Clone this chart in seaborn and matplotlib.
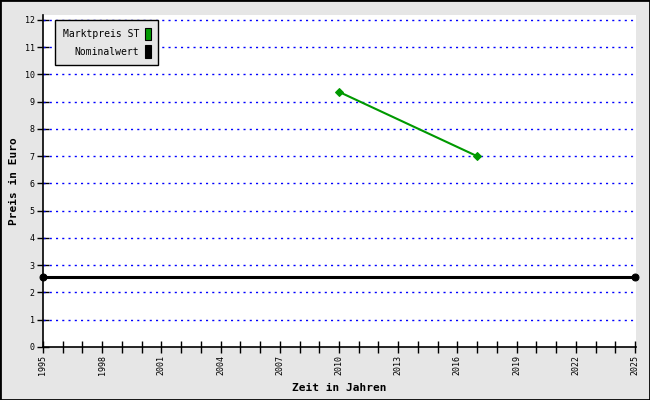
import matplotlib
matplotlib.use("Agg")
import matplotlib.pyplot as plt
import seaborn as sns
import pandas as pd
from matplotlib.patches import Rectangle

sns.set_theme(style="white")
plt.rcParams['font.family'] = ['DejaVu Sans Mono']
plt.rcParams['text.color'] = 'black'
plt.rcParams['axes.labelcolor'] = 'black'
plt.rcParams['xtick.color'] = 'black'
plt.rcParams['ytick.color'] = 'black'

# Data
markt_years = [2010, 2017]
markt_values = [9.36, 7.0]
nominal_years = [1995, 2025]
nominal_values = [2.56, 2.56]
series_names = ["Marktpreis ST", "Nominalwert"]
y_ticks = list(range(0, 13))
x_label_years = list(range(1995, 2026, 3))

df_markt = pd.DataFrame({"Jahr": markt_years, "Preis": markt_values})
df_nom = pd.DataFrame({"Jahr": nominal_years, "Preis": nominal_values})

fig = plt.figure(figsize=(6.5, 4), dpi=100, facecolor="#e6e6e6")
ax = fig.add_axes([43/650, 53/400, 593/650, 332/400])
ax.set_facecolor("white")

# grid
for y in y_ticks[1:]:
    ax.axhline(y, color="#0000ff", linestyle=(0, (1.5, 3)), linewidth=1.0, zorder=1)

sns.lineplot(data=df_nom, x="Jahr", y="Preis", ax=ax, color="black", linewidth=2.2,
             marker="o", markersize=5, markeredgecolor="black", zorder=3, clip_on=False)
sns.lineplot(data=df_markt, x="Jahr", y="Preis", ax=ax, color="#009900", linewidth=1.5,
             marker="D", markersize=4, markeredgecolor="#009900", zorder=3)

ax.set_xlim(1995, 2025.05)
ax.set_ylim(0, 12.18)
ax.set_yticks(y_ticks)
ax.set_yticklabels([str(v) for v in y_ticks], fontsize=6)
ax.set_xticks(x_label_years)
ax.set_xticklabels([str(v) for v in x_label_years], fontsize=6, rotation=90)
ax.set_xticks(list(range(1995, 2026)), minor=True)
ax.tick_params(axis="x", which="both", direction="inout", length=8, width=1, color="black", pad=2, bottom=True)
ax.tick_params(axis="y", which="both", direction="inout", length=8, width=1, color="black", pad=2, left=True)

for side in ["top", "right"]:
    ax.spines[side].set_visible(False)
for side in ["left", "bottom"]:
    ax.spines[side].set_color("black")
    ax.spines[side].set_linewidth(1.2)

ax.set_xlabel("Zeit in Jahren", fontsize=8, fontweight="bold")
ax.set_ylabel("Preis in Euro", fontsize=8, fontweight="bold")
ax.xaxis.set_label_coords(0.5, -0.108)
ax.yaxis.set_label_coords(-0.040, 0.5)

handles = [Rectangle((0, 0), 1, 1, facecolor="#009900", edgecolor="black", linewidth=0.8),
           Rectangle((0, 0), 1, 1, facecolor="black", edgecolor="black", linewidth=0.8)]
leg = ax.legend(handles, series_names, loc="upper left", bbox_to_anchor=(0.02, 0.985),
                borderaxespad=0,
                markerfirst=False, fontsize=7, frameon=True, fancybox=False,
                facecolor="#e6e6e6", edgecolor="black", framealpha=1,
                handlelength=0.6, handleheight=1.6, handletextpad=0.6,
                labelspacing=0.5, borderpad=0.8)
leg.get_frame().set_linewidth(1.0)
for t in leg.get_texts():
    t.set_ha("right")
    t.set_color("black")

fig.patches.append(Rectangle((0, 0), 1, 1, transform=fig.transFigure, fill=False,
                             edgecolor="black", linewidth=2, zorder=10))

fig.savefig("out.png", dpi=100, facecolor="#e6e6e6")
